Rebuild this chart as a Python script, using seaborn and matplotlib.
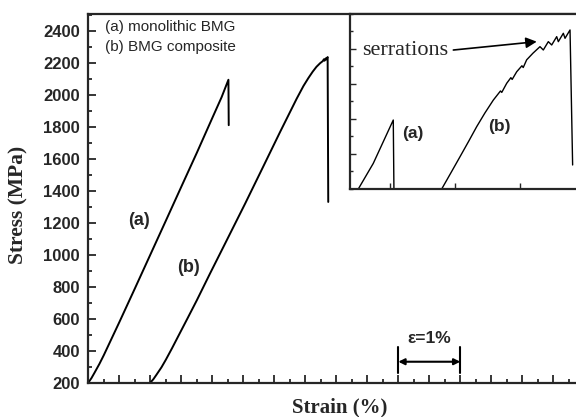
import numpy as np
import pandas as pd
import matplotlib
matplotlib.use('Agg')
import matplotlib.pyplot as plt
import seaborn as sns
from matplotlib.ticker import MultipleLocator

# main curves: strain (%) vs stress (MPa)
strain_a = [0.00, 0.05, 0.10, 0.18, 0.25, 0.50, 0.75, 1.00, 1.25, 1.50, 1.75, 2.00, 2.15, 2.26, 2.265]
stress_a = [200, 228, 262, 318, 372, 578, 788, 1000, 1212, 1425, 1637, 1855, 1985, 2094, 1810]

strain_b = [1.00, 1.05, 1.10, 1.18, 1.25, 1.35, 1.45, 1.60, 1.75, 1.96, 2.20, 2.53, 2.82, 3.09,
            3.36, 3.47, 3.55, 3.62, 3.68, 3.74, 3.78, 3.80, 3.81, 3.83, 3.84, 3.86, 3.87]
stress_b = [200, 222, 250, 296, 343, 415, 490, 602, 715, 880, 1065, 1320, 1550, 1765,
            1975, 2055, 2105, 2145, 2175, 2198, 2210, 2222, 2213, 2228, 2221, 2236, 1330]

# inset curves (arbitrary zoomed units)
inset_x_a = [0.513, 0.743, 0.897, 1.051, 1.061]
inset_y_a = [0.0, 0.73, 1.35, 1.97, 0.0]

inset_x_b = [1.796, 1.94, 2.077, 2.21, 2.334, 2.46, 2.59, 2.70, 2.72, 2.796, 2.86, 2.88, 2.95,
             3.03, 3.05, 3.103, 3.20, 3.308, 3.359, 3.436, 3.488, 3.565, 3.590, 3.667, 3.693,
             3.770, 3.81]
inset_y_b = [0.0, 0.47, 0.92, 1.36, 1.78, 2.17, 2.54, 2.80, 2.76, 3.02, 3.18, 3.13, 3.35,
             3.52, 3.47, 3.69, 3.88, 4.066, 3.971, 4.209, 4.114, 4.352, 4.209, 4.448, 4.305,
             4.543, 0.686]

y_ticks = list(range(200, 2401, 200))

df_a = pd.DataFrame({'strain': strain_a, 'stress': stress_a})
df_b = pd.DataFrame({'strain': strain_b, 'stress': stress_b})
in_a = pd.DataFrame({'u': inset_x_a, 'v': inset_y_a})
in_b = pd.DataFrame({'u': inset_x_b, 'v': inset_y_b})

sns.set_style('ticks')
plt.rcParams['font.family'] = ['Liberation Sans', 'DejaVu Sans']

fig = plt.figure(figsize=(5.76, 4.17), dpi=100)
ax = fig.add_axes([0.1533, 0.0823, 0.8536, 0.8841])

sns.lineplot(data=df_a, x='strain', y='stress', sort=False, color='black', lw=1.4, ax=ax)
sns.lineplot(data=df_b, x='strain', y='stress', sort=False, color='black', lw=1.4, ax=ax)

ax.set_xlim(0, 7.93)
ax.set_ylim(200, 2505)
ax.set_yticks(y_ticks)
ax.yaxis.set_minor_locator(MultipleLocator(100))
ax.xaxis.set_major_locator(MultipleLocator(0.5))
ax.xaxis.set_minor_locator(MultipleLocator(0.25))
ax.set_xticklabels([])
ax.tick_params(which='major', direction='in', length=6, width=1.3, labelsize=12, pad=6)
ax.tick_params(which='minor', direction='in', length=3, width=1.3)
for lab in ax.get_yticklabels():
    lab.set_fontweight('bold')
for s in ax.spines.values():
    s.set_linewidth(1.6)

ax.set_xlabel('Strain (%)', family='Liberation Serif', fontweight='bold', fontsize=15)
ax.set_ylabel('Stress (MPa)', family='Liberation Serif', fontweight='bold', fontsize=15.5)
ax.xaxis.set_label_coords(0.512, -0.0686)
ax.xaxis.label.set_va('center')
ax.yaxis.set_label_coords(-0.141, 0.482)
ax.yaxis.label.set_va('center')

ax.text(0.265, 2421, '(a) monolithic BMG', fontsize=11, va='center')
ax.text(0.265, 2300, '(b) BMG composite', fontsize=11, va='center')
ax.text(0.818, 1217, '(a)', fontsize=13, fontweight='bold', ha='center', va='center')
ax.text(1.624, 923, '(b)', fontsize=13, fontweight='bold', ha='center', va='center')

# strain scale bar
ax.plot([5.0, 5.0], [262, 425], color='black', lw=1.5)
ax.plot([6.0, 6.0], [262, 425], color='black', lw=1.5)
ax.annotate('', xy=(6.0, 331), xytext=(5.0, 331),
            arrowprops=dict(arrowstyle='<|-|>', color='black', lw=1.5, mutation_scale=9,
                            shrinkA=0, shrinkB=0))
ax.text(5.5, 479, 'ε=1%', fontsize=12.5, fontweight='bold', ha='center', va='center')

# inset
ax_in = fig.add_axes([0.6076, 0.5468, 0.3993, 0.4197])
ax_in.set_facecolor('white')
sns.lineplot(data=in_a, x='u', y='v', sort=False, color='black', lw=1.0, ax=ax_in)
sns.lineplot(data=in_b, x='u', y='v', sort=False, color='black', lw=1.0, ax=ax_in)
ax_in.set_xlim(0.385, 3.923)
ax_in.set_ylim(0, 5)
ax_in.set_xticks([1, 2, 3])
ax_in.set_yticks([1, 2, 3, 4])
ax_in.yaxis.set_minor_locator(MultipleLocator(0.5))
ax_in.set_xticklabels([])
ax_in.set_yticklabels([])
ax_in.set_xlabel('')
ax_in.set_ylabel('')
ax_in.tick_params(which='major', direction='in', length=4, width=1.0)
ax_in.tick_params(which='minor', direction='in', length=2, width=1.0)
for s in ax_in.spines.values():
    s.set_linewidth(1.6)

ax_in.text(1.347, 1.571, '(a)', fontsize=12.5, fontweight='bold', ha='center', va='center')
ax_in.text(2.677, 1.771, '(b)', fontsize=12.5, fontweight='bold', ha='center', va='center')
ax_in.text(0.565, 3.97, 'serrations', family='Liberation Serif', fontsize=16, va='center')
ax_in.annotate('', xy=(3.258, 4.209), xytext=(1.975, 3.97),
               arrowprops=dict(arrowstyle='-|>', color='black', lw=1.2, mutation_scale=16,
                               shrinkA=0, shrinkB=0))

fig.savefig('out.png', dpi=100)
